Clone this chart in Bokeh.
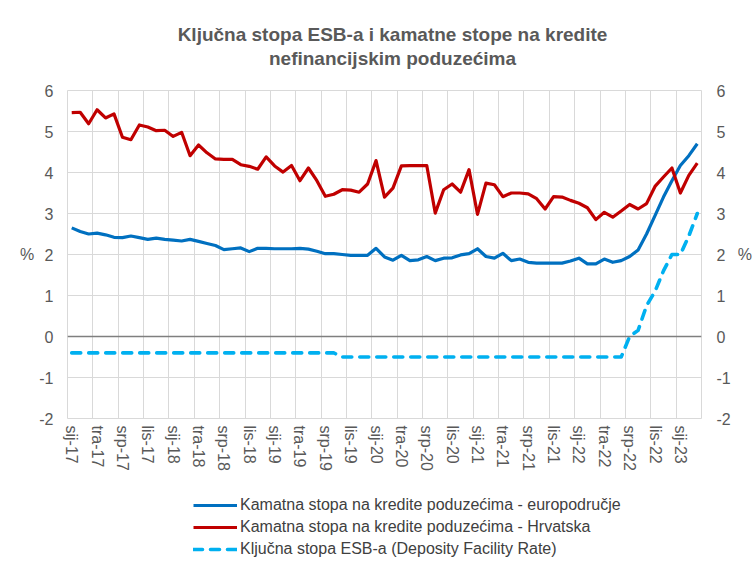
from bokeh.plotting import figure
from bokeh.layouts import column
from bokeh.models import (ColumnDataSource, FixedTicker, LinearAxis, Legend,
                          LegendItem, Range1d, Span)
from bokeh.core.properties import value
from bokeh.embed import file_html
from bokeh.resources import INLINE

# ---------------- data ----------------
title_lines = ["Ključna stopa ESB-a i kamatne stope na kredite",
               "nefinancijskim poduzećima"]

# monthly observations, sij-17 (Jan 2017) ... ožu-23 (Mar 2023)
month_no = list(range(75))

ea_rate = [2.65, 2.56, 2.50, 2.52, 2.48, 2.42, 2.41, 2.45, 2.41, 2.37,
           2.40, 2.37, 2.35, 2.33, 2.37, 2.32, 2.27, 2.22, 2.12, 2.14,
           2.16, 2.07, 2.15, 2.15, 2.14, 2.14, 2.14, 2.15, 2.13, 2.08,
           2.02, 2.02, 2.00, 1.98, 1.98, 1.98, 2.15, 1.94, 1.86, 1.98,
           1.85, 1.87, 1.95, 1.85, 1.91, 1.92, 1.99, 2.02, 2.14, 1.95,
           1.91, 2.03, 1.85, 1.89, 1.81, 1.79, 1.79, 1.79, 1.79, 1.84,
           1.91, 1.77, 1.77, 1.89, 1.81, 1.85, 1.95, 2.11, 2.50, 2.95,
           3.40, 3.80, 4.17, 4.41, 4.70]

hr_rate = [5.46, 5.47, 5.19, 5.53, 5.33, 5.43, 4.86, 4.80, 5.16, 5.11,
           5.02, 5.03, 4.88, 4.98, 4.41, 4.67, 4.48, 4.33, 4.32, 4.32,
           4.19, 4.15, 4.08, 4.38, 4.16, 4.01, 4.17, 3.80, 4.11, 3.80,
           3.42, 3.47, 3.58, 3.57, 3.52, 3.72, 4.29, 3.40, 3.62, 4.16,
           4.17, 4.17, 4.17, 3.01, 3.58, 3.72, 3.52, 4.07, 2.98, 3.74,
           3.70, 3.41, 3.50, 3.50, 3.48, 3.36, 3.11, 3.41, 3.40, 3.32,
           3.25, 3.14, 2.85, 3.03, 2.91, 3.06, 3.22, 3.11, 3.24, 3.66,
           3.89, 4.11, 3.50, 3.93, 4.23]

dfr_rate = [-0.4, -0.4, -0.4, -0.4, -0.4, -0.4, -0.4, -0.4, -0.4, -0.4,
            -0.4, -0.4, -0.4, -0.4, -0.4, -0.4, -0.4, -0.4, -0.4, -0.4,
            -0.4, -0.4, -0.4, -0.4, -0.4, -0.4, -0.4, -0.4, -0.4, -0.4,
            -0.4, -0.4, -0.5, -0.5, -0.5, -0.5, -0.5, -0.5, -0.5, -0.5,
            -0.5, -0.5, -0.5, -0.5, -0.5, -0.5, -0.5, -0.5, -0.5, -0.5,
            -0.5, -0.5, -0.5, -0.5, -0.5, -0.5, -0.5, -0.5, -0.5, -0.5,
            -0.5, -0.5, -0.5, -0.5, -0.5, -0.5, 0.0, 0.15, 0.75, 1.1,
            1.6, 2.0, 2.0, 2.45, 3.0]

x_tick_pos = [0, 3, 6, 9, 12, 15, 18, 21, 24, 27, 30, 33, 36, 39, 42, 45,
              48, 51, 54, 57, 60, 63, 66, 69, 72]
x_tick_labels = ["sij-17", "tra-17", "srp-17", "lis-17",
                 "sij-18", "tra-18", "srp-18", "lis-18",
                 "sij-19", "tra-19", "srp-19", "lis-19",
                 "sij-20", "tra-20", "srp-20", "lis-20",
                 "sij-21", "tra-21", "srp-21", "lis-21",
                 "sij-22", "tra-22", "srp-22", "lis-22",
                 "sij-23"]
y_ticks = [-2, -1, 0, 1, 2, 3, 4, 5, 6]
y_tick_labels = ["-2", "-1", "0", "1", "2", "3", "4", "5", "6"]

series_names = ["Kamatna stopa na kredite poduzećima - europodručje",
                "Kamatna stopa na kredite poduzećima - Hrvatska",
                "Ključna stopa ESB-a (Deposity Facility Rate)"]

# ---------------- style ----------------
FONT = "Liberation Sans"
GRAY = "#595959"
GRID = "#d9d9d9"
C_EA, C_HR, C_DFR = "#0070C0", "#C00000", "#00B0F0"
W = 756
BL, BR = 67, 55          # left / right borders shared by all strips

src = ColumnDataSource(dict(x=month_no, ea=ea_rate, hr=hr_rate, dfr=dfr_rate))


def bare(height, xr, yr):
    f = figure(width=W, height=height, output_backend="svg",
               toolbar_location=None, x_range=xr, y_range=yr,
               x_axis_type=None, y_axis_type=None, title=None,
               min_border_left=BL, min_border_right=BR,
               min_border_top=0, min_border_bottom=0)
    f.outline_line_color = None
    f.background_fill_color = "white"
    f.border_fill_color = "white"
    return f


# ---------------- title strip (pixel-like ranges: y grows downward) ----------------
tt = bare(80, Range1d(BL, W - BR), Range1d(80, 0))
tt.text(x=[392, 392], y=[34, 58], text=title_lines, text_align="center",
        text_baseline="middle", text_font=value(FONT), text_font_size="19px",
        text_font_style="bold", text_color=GRAY)

# ---------------- main chart ----------------
p = figure(width=W, height=408, output_backend="svg", toolbar_location=None,
           x_range=Range1d(-0.5, 74.5), y_range=Range1d(-2, 6), title=None,
           min_border_left=BL, min_border_right=BR, min_border_top=10,
           min_border_bottom=70)
p.background_fill_color = "white"
p.border_fill_color = "white"
p.outline_line_color = GRID
p.outline_line_width = 1

p.xgrid.ticker = FixedTicker(ticks=[t - 0.5 for t in x_tick_pos] + [74.5])
p.xgrid.grid_line_color = GRID
p.ygrid.grid_line_color = GRID

xa = p.xaxis[0]
xa.ticker = FixedTicker(ticks=x_tick_pos)
xa.major_label_overrides = {pos: lab for pos, lab in zip(x_tick_pos, x_tick_labels)}
xa.major_label_orientation = "vertical"
xa.major_label_text_font = FONT
xa.major_label_text_font_size = "16px"
xa.major_label_text_color = GRAY
xa.major_label_standoff = 7
xa.axis_line_color = None
xa.major_tick_line_color = None
xa.minor_tick_line_color = None
xa.major_tick_out = 0
xa.major_tick_in = 0
xa.minor_tick_out = 0

ya = p.yaxis[0]
ra = LinearAxis()
p.add_layout(ra, "right")
for ax, st, ls in ((ya, 14, 2), (ra, 15, 4)):
    ax.ticker = FixedTicker(ticks=y_ticks)
    ax.major_label_overrides = {v: s for v, s in zip(y_ticks, y_tick_labels)}
    ax.major_label_text_font = FONT
    ax.major_label_text_font_size = "16px"
    ax.major_label_text_color = GRAY
    ax.major_label_standoff = st
    ax.axis_line_color = None
    ax.major_tick_line_color = None
    ax.minor_tick_line_color = None
    ax.major_tick_out = 0
    ax.major_tick_in = 0
    ax.minor_tick_out = 0
    ax.axis_label = "%"
    ax.axis_label_orientation = "horizontal"
    ax.axis_label_text_font = FONT
    ax.axis_label_text_font_size = "16px"
    ax.axis_label_text_font_style = "normal"
    ax.axis_label_text_color = GRAY
    ax.axis_label_standoff = ls

p.add_layout(Span(location=0, dimension="width", line_color="#7f7f7f",
                  line_width=1.5))

LINE_EA = dict(line_color=C_EA, line_width=3.2, line_join="round")
LINE_HR = dict(line_color=C_HR, line_width=3.2, line_join="round")
LINE_DFR = dict(line_color=C_DFR, line_width=3.6, line_dash="9 8",
                line_cap="round", line_join="round")

p.line("x", "ea", source=src, **LINE_EA)
p.line("x", "hr", source=src, **LINE_HR)
p.line("x", "dfr", source=src, **LINE_DFR)

# ---------------- legend strip ----------------
# the same series are drawn here outside the visible y-range; only the
# legend samples show
lg = bare(81, Range1d(-0.5, 74.5), Range1d(100, 101))
k_ea = lg.line("x", "ea", source=src, **LINE_EA)
k_hr = lg.line("x", "hr", source=src, **LINE_HR)
k_dfr = lg.line("x", "dfr", source=src, **LINE_DFR)

legend = Legend(items=[LegendItem(label=series_names[0], renderers=[k_ea]),
                       LegendItem(label=series_names[1], renderers=[k_hr]),
                       LegendItem(label=series_names[2], renderers=[k_dfr])],
                location=(126, 10), orientation="vertical",
                glyph_width=44, glyph_height=20, label_height=20,
                label_standoff=3, spacing=2, padding=0, margin=0,
                border_line_color=None, background_fill_alpha=0,
                label_text_font=FONT, label_text_font_size="16px",
                label_text_color="#404040")
lg.add_layout(legend, "center")

layout = column(tt, p, lg, spacing=0)
open("out.html", "w").write(file_html(layout, INLINE))
